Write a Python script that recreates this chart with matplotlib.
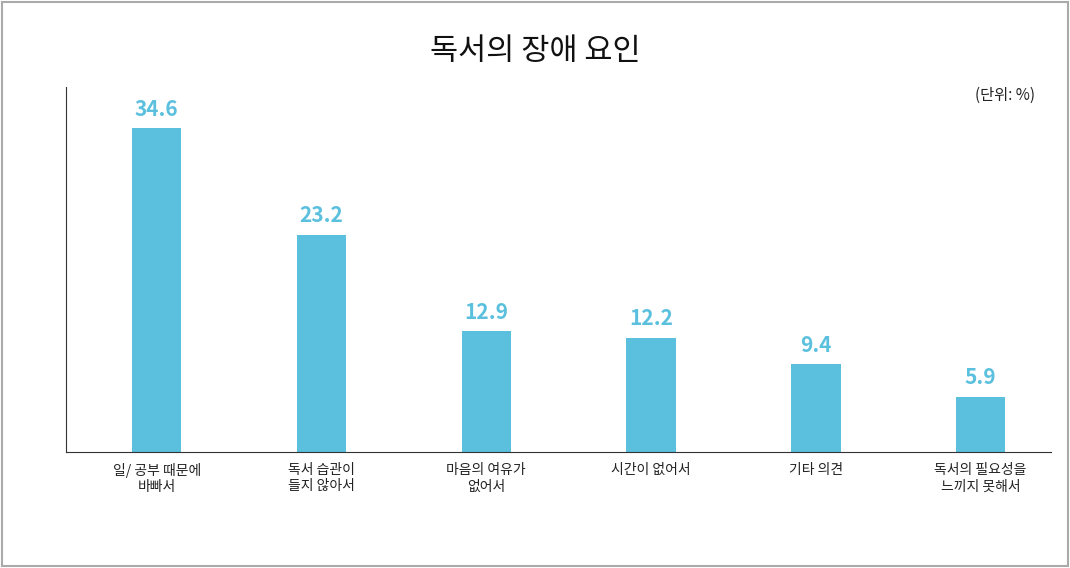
import matplotlib
matplotlib.use("Agg")
import matplotlib.pyplot as plt
from matplotlib.patches import Rectangle

categories = ["일/ 공부 때문에\n바빠서", "독서 습관이\n들지 않아서", "마음의 여유가\n없어서", "시간이 없어서", "기타 의견", "독서의 필요성을\n느끼지 못해서"]
values = [34.6, 23.2, 12.9, 12.2, 9.4, 5.9]

plt.rcParams["font.family"] = ["Noto Sans CJK JP", "Noto Sans CJK KR", "Noto Sans CJK SC", "DejaVu Sans"]
fig = plt.figure(figsize=(10.7, 5.68), dpi=100)
fig.patches.append(Rectangle((0.002, 0.003), 0.996, 0.994, transform=fig.transFigure,
                             fill=False, edgecolor="#aaaaaa", linewidth=1.5))
ax = fig.add_axes([0.0617, 0.204, 0.921, 0.643])
x = range(len(values))
color = "#5bc0de"
ax.bar(x, values, width=0.3, color=color)
for i, v in zip(x, values):
    ax.text(i, v + 0.9, f"{v}", ha="center", va="bottom", fontsize=15, fontweight="bold", color=color)
ax.set_xlim(-0.55, 5.43)
ax.set_ylim(0, 39.0)
ax.set_xticks(list(x))
ax.set_xticklabels(categories, fontsize=10, color="#222222", linespacing=1.2)
ax.tick_params(axis="x", length=0, pad=8)
ax.set_yticks([])
for s in ["top", "right"]:
    ax.spines[s].set_visible(False)
ax.spines["left"].set_color("#333333")
ax.spines["bottom"].set_color("#333333")
fig.text(0.5, 0.91, "독서의 장애 요인", ha="center", va="center", fontsize=22, color="#111111")
fig.text(0.967, 0.832, "(단위: %)", ha="right", va="center", fontsize=11, color="#222222")
fig.savefig("out.png", dpi=100)
